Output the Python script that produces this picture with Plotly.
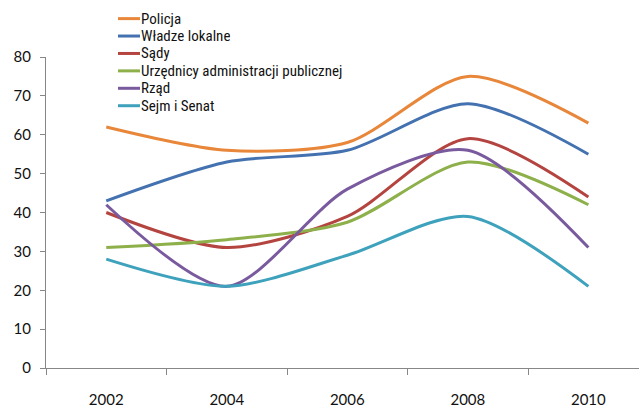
import plotly.graph_objects as go

years = [2002, 2004, 2006, 2008, 2010]
tick_labels = ["2002", "2004", "2006", "2008", "2010"]

policja = [62, 56, 58, 75, 63]
wladze_lokalne = [43, 53, 56, 68, 55]
sady = [40, 31, 39, 59, 44]
urzednicy = [31, 33, 37.5, 53, 42]
rzad = [42, 21, 46, 56, 31]
sejm_senat = [28, 21, 29, 39, 21]

series = [
    ("Policja", policja, "#E8873A"),
    ("Władze lokalne", wladze_lokalne, "#4472B0"),
    ("Sądy", sady, "#B4443F"),
    ("Urzędnicy administracji publicznej", urzednicy, "#8DB04A"),
    ("Rząd", rzad, "#7A5A9E"),
    ("Sejm i Senat", sejm_senat, "#3FA2BD"),
]

W, H = 639, 408
M_L, M_R, M_T, M_B = 46, 0, 57, 35
plot_w = W - M_L - M_R
plot_h = H - M_T - M_B

fig = go.Figure()
for name, values, color in series:
    fig.add_trace(go.Scatter(
        x=years, y=values, name=name, mode="lines",
        line=dict(color=color, width=3, shape="spline", smoothing=0.8),
        showlegend=False,
    ))

# compact key in the top-left corner: short coloured stroke + label per series
key_x0, key_x1, key_text_x = 118, 140, 140
key_top, key_step = 18, 17.7
key_font = dict(family="Liberation Sans Narrow, Roboto Condensed, Roboto, sans-serif",
                size=15, color="#111111")

def px_to_paper_x(px):
    return (px - M_L) / plot_w

def px_to_paper_y(py):
    return (H - M_B - py) / plot_h

for i, (name, _, color) in enumerate(series):
    yy = px_to_paper_y(key_top + i * key_step)
    fig.add_shape(type="line", xref="paper", yref="paper",
                  x0=px_to_paper_x(key_x0), x1=px_to_paper_x(key_x1), y0=yy, y1=yy,
                  line=dict(color=color, width=3))
    fig.add_annotation(xref="paper", yref="paper", x=px_to_paper_x(key_text_x), y=yy,
                       text=name, showarrow=False, xanchor="left", yanchor="middle",
                       height=16, borderpad=0, valign="middle",
                       font=key_font)

axis_color = "#878787"
tick_font = dict(family="Lato, Liberation Sans, sans-serif", size=15, color="#111111")

fig.update_layout(
    width=W, height=H,
    margin=dict(l=M_L, r=M_R, t=M_T, b=M_B),
    paper_bgcolor="white", plot_bgcolor="white",
    showlegend=False,
    xaxis=dict(
        range=[2001.0, 2010.84], showgrid=False, zeroline=False,
        showline=True, linecolor=axis_color, linewidth=1,
        tickmode="array", tickvals=years, ticktext=tick_labels,
        ticks="", ticklabelstandoff=18, tickfont=tick_font,
        minor=dict(tick0=2001, dtick=2, ticks="outside", ticklen=6,
                   tickcolor=axis_color, showgrid=False),
    ),
    yaxis=dict(
        range=[0, 80], showgrid=False, zeroline=False,
        showline=True, linecolor=axis_color, linewidth=1,
        tickmode="array", tickvals=list(range(0, 81, 10)),
        ticks="outside", ticklen=5, tickcolor=axis_color,
        ticklabelstandoff=6, tickfont=tick_font,
    ),
)

fig.write_html("out.html")
